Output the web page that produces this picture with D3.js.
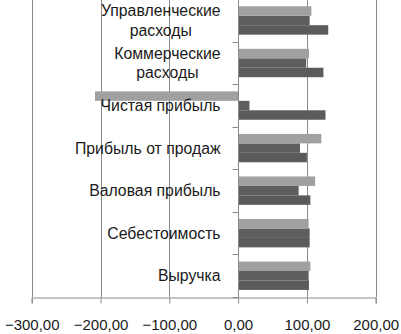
<!DOCTYPE html>
<html>
<head>
<meta charset="utf-8">
<script src="https://cdn.jsdelivr.net/npm/d3@7"></script>
<style>
  html, body { margin: 0; padding: 0; background: #fff; }
  svg { display: block; }
  text { font-family: "Liberation Sans", Arial, sans-serif; fill: #1a1a1a; }
</style>
</head>
<body>
<svg id="chart" width="401" height="334"></svg>
<script>
const categories = ["Выручка", "Себестоимость", "Валовая прибыль", "Прибыль от продаж", "Чистая прибыль", "Коммерческие расходы", "Управленческие расходы"];
const categoryLines = [["Выручка"], ["Себестоимость"], ["Валовая прибыль"], ["Прибыль от продаж"], ["Чистая прибыль"], ["Коммерческие", "расходы"], ["Управленческие", "расходы"]];
const series1 = [103, 104, 105, 100, 127, 124, 131];      // bottom bar (dark)
const series2 = [102.5, 104, 88, 90, 16.5, 99, 104];      // middle bar (dark)
const series3 = [105, 102.5, 112, 121, -208, 103, 106.5]; // top bar (light)
const xTicks = [-300, -200, -100, 0, 100, 200];
const xTickLabels = ["−300,00", "−200,00", "−100,00", "0,00", "100,00", "200,00"];

const colors = { s1: "#5b5b5b", s2: "#5e5e5e", s3: "#a0a0a0" };
const svg = d3.select("#chart");

const x = d3.scaleLinear().domain([-300, 200]).range([31.7, 375.7]);
const y = d3.scaleBand().domain(categories.slice().reverse()).range([-0.8, 297]).paddingInner(0).paddingOuter(0);
const ySub = d3.scaleBand().domain(["s3", "s2", "s1"]).range([0, y.bandwidth()]).paddingInner(0).paddingOuter(0.75);

// vertical gridlines
svg.append("g").selectAll("line").data(xTicks).join("line")
  .attr("x1", d => Math.round(x(d)) + 0.5).attr("x2", d => Math.round(x(d)) + 0.5)
  .attr("y1", -2).attr("y2", 297)
  .attr("stroke", "#8a8a8a").attr("stroke-width", 1);

// bars
const rows = [];
categories.forEach((c, i) => {
  rows.push({ c, s: "s1", v: series1[i] });
  rows.push({ c, s: "s2", v: series2[i] });
  rows.push({ c, s: "s3", v: series3[i] });
});
svg.append("g").selectAll("rect").data(rows).join("rect")
  .attr("x", d => x(Math.min(0, d.v)))
  .attr("width", d => Math.abs(x(d.v) - x(0)))
  .attr("y", d => y(d.c) + ySub(d.s))
  .attr("height", ySub.bandwidth())
  .attr("fill", d => colors[d.s]);

// x axis (bottom)
const xAxis = d3.axisBottom(x).tickValues(xTicks).tickSize(6).tickPadding(16)
  .tickFormat((d, i) => xTickLabels[i]);
const gx = svg.append("g").attr("transform", "translate(0,297.5)").call(xAxis);
gx.select(".domain").attr("stroke", "#8a8a8a");
gx.selectAll(".tick line").attr("stroke", "#8a8a8a");
gx.selectAll(".tick text").attr("font-size", 15).attr("font-family", "Liberation Sans, Arial, sans-serif").attr("fill", "#1a1a1a");

// y axis line at zero with ticks at category boundaries
const yAxisG = svg.append("g");
const x0 = Math.round(x(0)) + 0.5;
yAxisG.append("line").attr("x1", x0).attr("x2", x0).attr("y1", -2).attr("y2", 297)
  .attr("stroke", "#8a8a8a");
const boundaries = categories.map(c => y(c) + y.bandwidth());
yAxisG.selectAll("line.tk").data(boundaries).join("line").attr("class", "tk")
  .attr("x1", x0 - 6).attr("x2", x0)
  .attr("y1", d => Math.round(d) + 0.5).attr("y2", d => Math.round(d) + 0.5)
  .attr("stroke", "#8a8a8a");

// category labels
const labelRight = x(0) - 17.5;
const lg = svg.append("g");
categories.forEach((c, i) => {
  const lines = categoryLines[i];
  const cy = y(c) + y.bandwidth() / 2;
  const lh = 19.5;
  const texts = lines.map((ln, j) => lg.append("text")
    .attr("font-size", 15.8)
    .attr("dominant-baseline", "central")
    .attr("y", cy + (j - (lines.length - 1) / 2) * lh)
    .text(ln));
  const widths = texts.map(t => t.node().getComputedTextLength());
  const w = Math.max(...widths);
  texts.forEach(t => t.attr("text-anchor", "middle").attr("x", labelRight - w / 2));
});
</script>
</body>
</html>
